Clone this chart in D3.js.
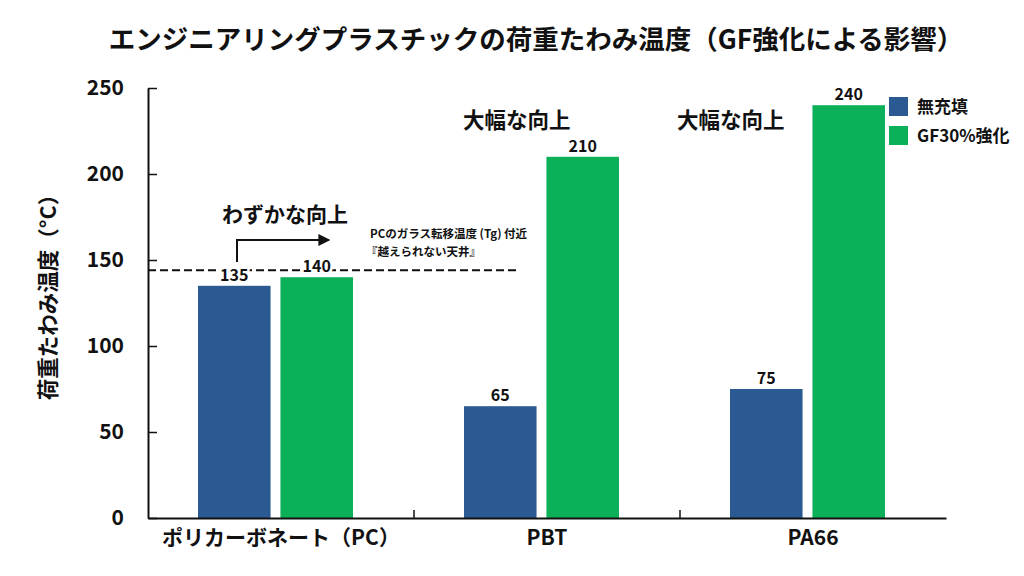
<!DOCTYPE html>
<html>
<head>
<meta charset="utf-8">
<script src="https://cdn.jsdelivr.net/npm/d3@7"></script>
<style>
  body { margin: 0; background: #fff; }
  text { font-family: "Noto Sans CJK JP", "Noto Sans", sans-serif; }
</style>
</head>
<body>
<script>
// データ
const categories = ['ポリカーボネート（PC）', 'PBT', 'PA66'];
const series = ['無充填', 'GF30%強化'];
const unfilled = [135, 65, 75];
const gf30 = [140, 210, 240];
const yTicks = [0, 50, 100, 150, 200, 250];
const tgLine = 144;

const width = 1024;
const height = 576;
const margin = { top: 88, right: 78, bottom: 58, left: 148 };
const colors = ['#2b5a92', '#0cb058'];

const svg = d3.select('body')
    .append('svg')
    .attr('width', width)
    .attr('height', height);

const innerW = width - margin.left - margin.right;
const innerH = height - margin.top - margin.bottom;

const g = svg.append('g')
    .attr('transform', 'translate(' + margin.left + ',' + margin.top + ')');

// 比例尺
const x = d3.scaleBand()
    .domain(categories)
    .range([0, innerW]);

const xInner = d3.scaleBand()
    .domain(series)
    .range([50, 205])
    .paddingInner(0.12);

const y = d3.scaleLinear()
    .domain([0, 250])
    .range([innerH, 0]);

// Tg 点線
g.append('line')
    .attr('x1', 0)
    .attr('x2', 370)
    .attr('y1', y(tgLine))
    .attr('y2', y(tgLine))
    .attr('stroke', '#111')
    .attr('stroke-width', 2)
    .attr('stroke-dasharray', '8,4');

// 棒
const rows = categories.map((c, i) => ({ cat: c, values: [unfilled[i], gf30[i]] }));

const groups = g.selectAll('.grp')
    .data(rows)
    .enter()
    .append('g')
    .attr('transform', d => 'translate(' + x(d.cat) + ',0)');

groups.selectAll('rect')
    .data(d => d.values.map((v, j) => ({ s: series[j], v: v, j: j })))
    .enter()
    .append('rect')
    .attr('x', d => xInner(d.s))
    .attr('y', d => y(d.v))
    .attr('width', xInner.bandwidth())
    .attr('height', d => innerH - y(d.v))
    .attr('fill', d => colors[d.j]);

groups.selectAll('.val')
    .data(d => d.values.map((v, j) => ({ s: series[j], v: v })))
    .enter()
    .append('text')
    .attr('x', d => xInner(d.s) + xInner.bandwidth() / 2)
    .attr('y', d => y(d.v) - 5)
    .attr('text-anchor', 'middle')
    .attr('font-size', 16)
    .attr('font-weight', 'bold')
    .attr('fill', '#111')
    .attr('stroke', '#fff')
    .attr('stroke-width', 5)
    .attr('paint-order', 'stroke')
    .text(d => d.v);

// 軸
const xAxis = d3.axisBottom(x).tickSize(0).tickPadding(12);
const xg = g.append('g')
    .attr('transform', 'translate(0,' + innerH + ')')
    .call(xAxis);
xg.select('.domain').attr('stroke', '#111').attr('stroke-width', 2);
xg.selectAll('text')
    .attr('font-size', 21)
    .attr('font-weight', 'bold')
    .attr('fill', '#111');

// 区切り目盛
g.selectAll('.sep')
    .data(categories.slice(1))
    .enter()
    .append('line')
    .attr('x1', d => x(d))
    .attr('x2', d => x(d))
    .attr('y1', innerH)
    .attr('y2', innerH - 8)
    .attr('stroke', '#111')
    .attr('stroke-width', 1.5);

const yAxis = d3.axisLeft(y).tickValues(yTicks).tickSize(-9).tickPadding(24).tickSizeOuter(0);
const yg = g.append('g').call(yAxis);
yg.select('.domain').attr('stroke', '#111').attr('stroke-width', 2);
yg.selectAll('.tick line').attr('stroke', '#111').attr('stroke-width', 1.5);
yg.selectAll('text')
    .attr('font-size', 21)
    .attr('font-weight', 'bold')
    .attr('fill', '#111');

// 注記
g.append('text')
    .attr('x', 222)
    .attr('y', 150)
    .attr('font-size', 11.5)
    .attr('font-weight', 'bold')
    .attr('fill', '#111')
    .text('PCのガラス転移温度 (Tg) 付近');
g.append('text')
    .attr('x', 218)
    .attr('y', 168)
    .attr('font-size', 11.5)
    .attr('font-weight', 'bold')
    .attr('fill', '#111')
    .text('『越えられない天井』');

g.append('text')
    .attr('x', 74)
    .attr('y', 134)
    .attr('font-size', 21)
    .attr('font-weight', 'bold')
    .attr('fill', '#111')
    .text('わずかな向上');

svg.append('defs').append('marker')
    .attr('id', 'arrow')
    .attr('viewBox', '0 0 10 10')
    .attr('refX', 8)
    .attr('refY', 5)
    .attr('markerWidth', 6)
    .attr('markerHeight', 6)
    .attr('orient', 'auto')
    .append('path')
    .attr('d', 'M0,0L10,5L0,10Z')
    .attr('fill', '#111');

g.append('path')
    .attr('d', 'M89,174V152H180')
    .attr('fill', 'none')
    .attr('stroke', '#111')
    .attr('stroke-width', 2)
    .attr('marker-end', 'url(#arrow)');

const bigX = [315, 529];
bigX.forEach(bx => {
    g.append('text')
        .attr('x', bx)
        .attr('y', 40)
        .attr('font-size', 21.5)
        .attr('font-weight', 'bold')
        .attr('fill', '#111')
        .text('大幅な向上');
});

// 凡例
const legend = svg.append('g')
    .attr('transform', 'translate(889,97)');
series.forEach((s, i) => {
    legend.append('rect')
        .attr('x', 0)
        .attr('y', i * 29)
        .attr('width', 19)
        .attr('height', 19)
        .attr('fill', colors[i]);
    legend.append('text')
        .attr('x', 28)
        .attr('y', i * 29 + 16)
        .attr('font-size', 17)
        .attr('font-weight', 'bold')
        .attr('fill', '#111')
        .text(s);
});

// タイトル
svg.append('text')
    .attr('x', width / 2 + 24)
    .attr('y', 49)
    .attr('text-anchor', 'middle')
    .attr('font-size', 26.5)
    .attr('font-weight', 'bold')
    .attr('fill', '#111')
    .text('エンジニアリングプラスチックの荷重たわみ温度（GF強化による影響）');

svg.append('text')
    .attr('transform', 'translate(56,292) rotate(-90)')
    .attr('text-anchor', 'middle')
    .attr('font-size', 21.5)
    .attr('font-weight', 'bold')
    .attr('fill', '#111')
    .text('荷重たわみ温度（°C）');
</script>
</body>
</html>
